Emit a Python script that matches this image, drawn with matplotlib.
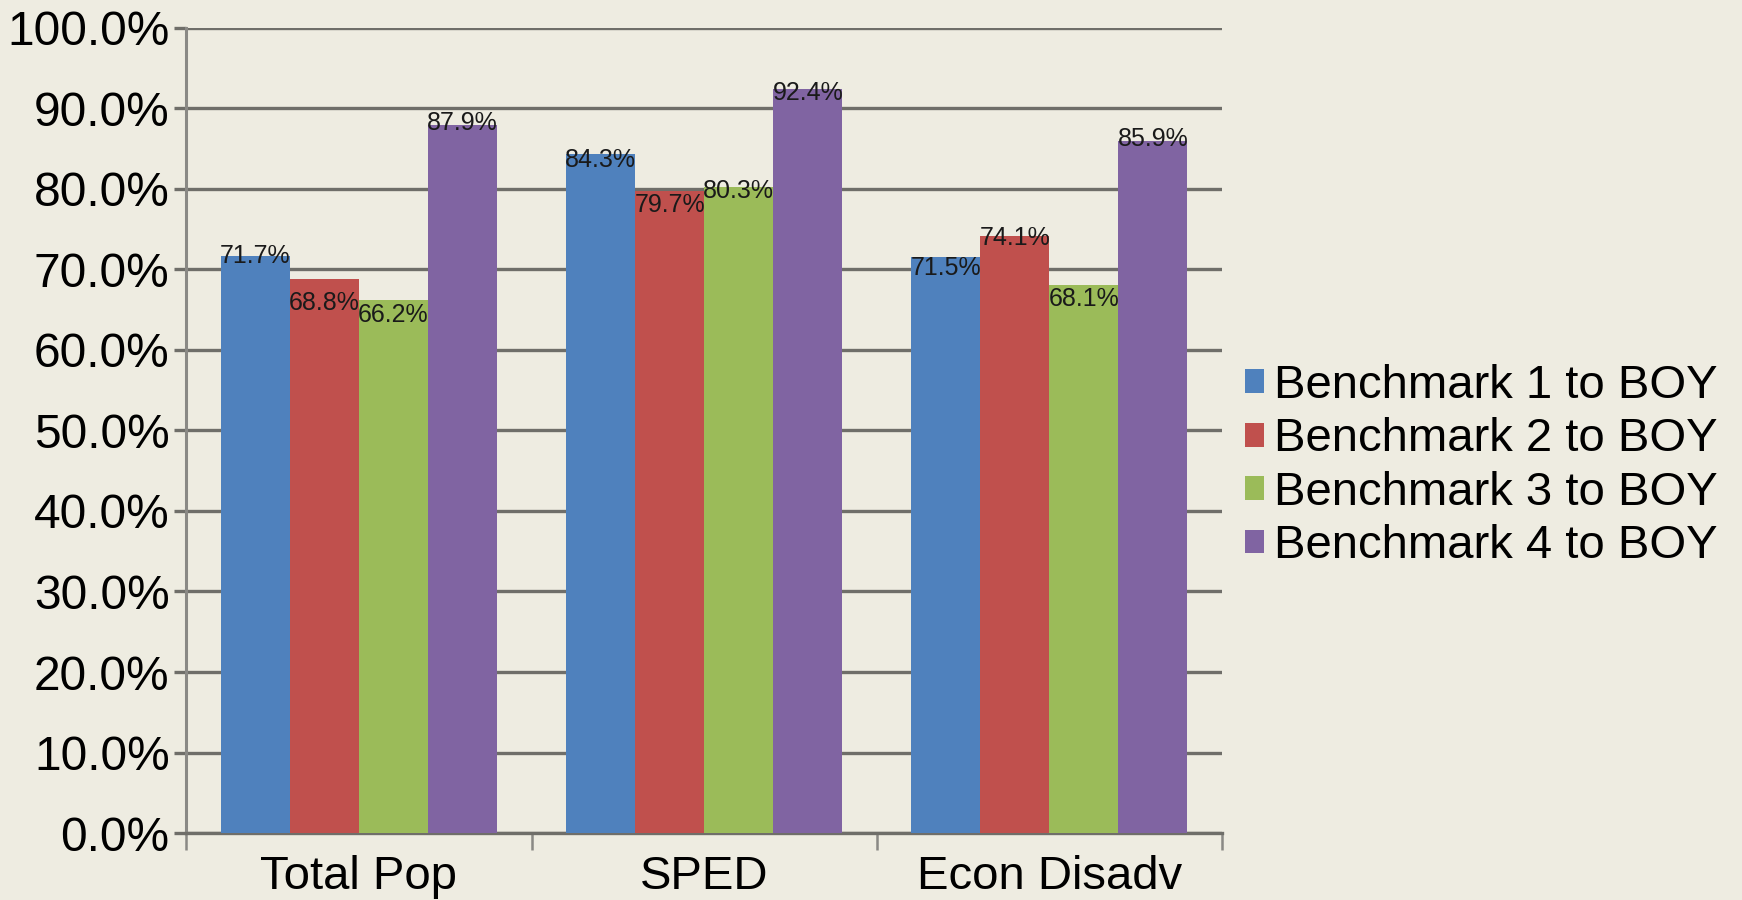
import numpy as np
import matplotlib.pyplot as plt
from matplotlib.patches import Patch
from matplotlib.ticker import FuncFormatter

# data
categories = ['Total Pop', 'SPED', 'Econ Disadv']
series_names = ['Benchmark 1 to BOY', 'Benchmark 2 to BOY',
                'Benchmark 3 to BOY', 'Benchmark 4 to BOY']
bench1 = [71.7, 84.3, 71.5]
bench2 = [68.8, 79.7, 74.1]
bench3 = [66.2, 80.3, 68.1]
bench4 = [87.9, 92.4, 85.9]
series = [bench1, bench2, bench3, bench4]

colors = ['#4F81BD', '#C0504D', '#9BBB59', '#8064A2']
bg = '#EEECE1'

# small vertical nudges of the data labels (points, downward), as placed in the source chart
label_dy = [[0, 17, 11, -2],
            [4, 10, 3, 3],
            [8, 1, 10, -2]]

plt.rcParams['font.family'] = ['Liberation Sans', 'DejaVu Sans']

fig = plt.figure(figsize=(17.42, 9), dpi=100, facecolor=bg)
ax = fig.add_axes([0.107, 0.0744, 0.5945, 0.8946], facecolor=bg)

x = np.arange(len(categories))
width = 0.2
for i, (vals, col) in enumerate(zip(series, colors)):
    pos = x + (i - 1.5) * width
    ax.bar(pos, vals, width, color=col, zorder=3)
    for j, (px, v) in enumerate(zip(pos, vals)):
        ax.annotate(f'{v:.1f}%', (px, v), xytext=(0, -label_dy[j][i]),
                    textcoords='offset points', ha='center', va='center',
                    fontsize=18, color='#1a1a1a', zorder=4)

ax.set_ylim(0, 100)
ax.set_xlim(-0.5, 2.5)
ax.set_yticks(np.arange(0, 101, 10))
ax.yaxis.set_major_formatter(FuncFormatter(lambda v, p: f'{v:.1f}%'))
ax.grid(axis='y', color='#6f6e69', linewidth=2.4, zorder=1)
ax.tick_params(axis='y', length=9, width=2.4, color='#6f6e69', pad=3,
               labelsize=34.5)

# category boundaries as ticks, names on minor ticks
ax.set_xticks([-0.5, 0.5, 1.5, 2.5])
ax.set_xticklabels([])
ax.set_xticks(x, minor=True)
ax.set_xticklabels(categories, minor=True)
ax.tick_params(axis='x', which='major', length=12, width=1.8, color='#8a8985')
ax.tick_params(axis='x', which='minor', length=0, pad=16, labelsize=34)

for s in ['top', 'right']:
    ax.spines[s].set_visible(False)
ax.spines['left'].set_color('#8a8985')
ax.spines['left'].set_linewidth(2.2)
ax.spines['bottom'].set_color('#6f6e69')
ax.spines['bottom'].set_linewidth(2.4)

handles = [Patch(facecolor=c) for c in colors]
fig.legend(handles, series_names, loc='center left',
           bbox_to_anchor=(0.704, 0.482), frameon=False, fontsize=34,
           handlelength=0.4, handleheight=0.4, handletextpad=0.2,
           labelspacing=0.2, borderaxespad=0)

fig.savefig('out.png', dpi=100, facecolor=bg)
